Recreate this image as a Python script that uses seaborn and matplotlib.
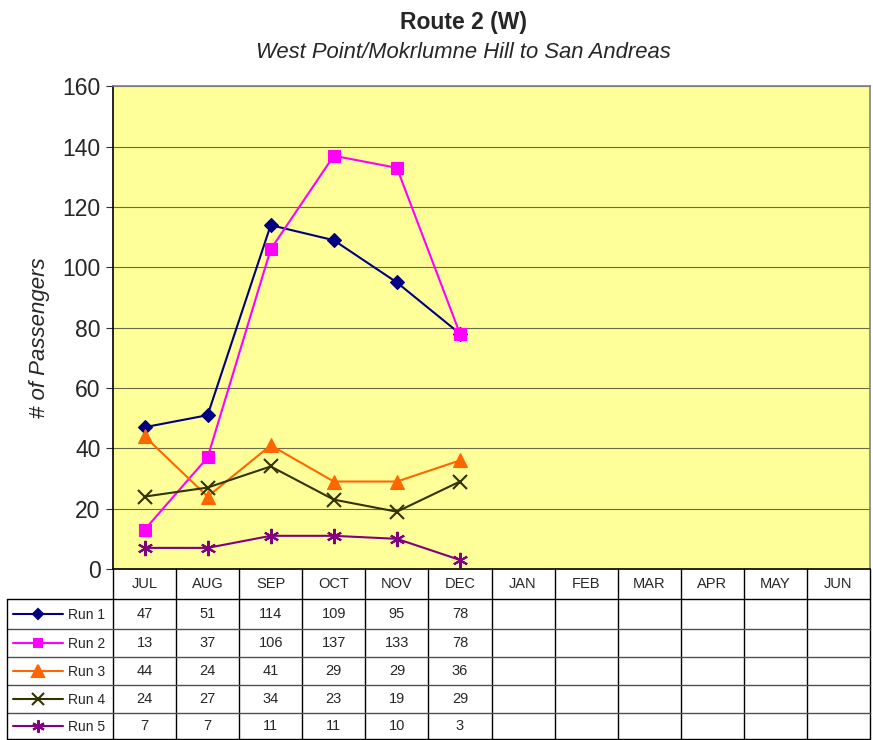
import matplotlib
matplotlib.use("Agg")
import matplotlib.pyplot as plt
import seaborn as sns
import pandas as pd

months = ["JUL", "AUG", "SEP", "OCT", "NOV", "DEC", "JAN", "FEB", "MAR", "APR", "MAY", "JUN"]
data_months = ["JUL", "AUG", "SEP", "OCT", "NOV", "DEC"]
run1 = [47, 51, 114, 109, 95, 78]
run2 = [13, 37, 106, 137, 133, 78]
run3 = [44, 24, 41, 29, 29, 36]
run4 = [24, 27, 34, 23, 19, 29]
run5 = [7, 7, 11, 11, 10, 3]
series_names = ["Run 1", "Run 2", "Run 3", "Run 4", "Run 5"]
series_vals = [run1, run2, run3, run4, run5]
yticks = [0, 20, 40, 60, 80, 100, 120, 140, 160]

colors = ["#000080", "#FF00FF", "#FF6600", "#333300", "#800080"]
markers = ["D", "s", "^", "x", (6, 2, 0)]
msizes = [7.5, 8, 10, 10, 11]

sns.set_style("white")
plt.rcParams["font.family"] = ["Liberation Sans", "DejaVu Sans"]

W, H = 873, 740
fig = plt.figure(figsize=(W / 100, H / 100), dpi=100)
L, R, T, B = 113, 870, 86.4, 569
ax = fig.add_axes([L / W, 1 - B / H, (R - L) / W, (B - T) / H])
ax.set_facecolor("#FFFF99")

rows = []
for name, vals in zip(series_names, series_vals):
    for m, v in zip(data_months, vals):
        rows.append({"month": m, "x": months.index(m), "run": name, "value": v})
df = pd.DataFrame(rows)

for i, name in enumerate(series_names):
    sub = df[df["run"] == name]
    mk = markers[i]
    filled = mk not in ("x",) and not isinstance(mk, tuple)
    sns.lineplot(data=sub, x="x", y="value", ax=ax, color=colors[i], lw=1.5,
                 marker=mk, markersize=msizes[i],
                 markeredgecolor=colors[i], markerfacecolor=colors[i],
                 markeredgewidth=1.5 if not filled else 0.8,
                 legend=False, zorder=3)

ax.set_xlim(-0.5, 11.5)
ax.set_ylim(0, 160)
ax.set_yticks(yticks)
ax.set_yticklabels([str(t) for t in yticks], fontsize=16.5)
ax.set_xticks([])
ax.set_xlabel("")
ax.set_ylabel("")
ax.grid(axis="y", color="#6b6b4a", lw=0.8)
ax.set_axisbelow(True)
ax.tick_params(axis="y", direction="out", length=5, width=0.8, color="#333333", pad=4, left=True)
for s in ["left", "bottom"]:
    ax.spines[s].set_color("black")
    ax.spines[s].set_linewidth(1.2)
for s in ["top", "right"]:
    ax.spines[s].set_color("#808080")
    ax.spines[s].set_linewidth(1.2)

fig.text(463 / W, 1 - 22 / H, "Route 2 (W)", ha="center", va="center", fontsize=16.5, fontweight="bold")
fig.text(463 / W, 1 - 52 / H, "West Point/Mokrlumne Hill to San Andreas", ha="center", va="center",
         fontsize=15.8, fontstyle="italic")
fig.text(40 / W, 1 - 338 / H, "# of Passengers", ha="center", va="center", rotation=90,
         fontsize=16, fontstyle="italic")

# data table
tax = fig.add_axes([0, 0, 1, 1])
tax.set_xlim(0, W)
tax.set_ylim(H, 0)
tax.axis("off")
colw = (R - L) / len(months)
row_y = [569, 599, 629, 657, 685, 713, 739]
lc = "black"
lw = 1.0
for i in range(len(months) + 1):
    x = L + i * colw
    tax.plot([x, x], [row_y[0], row_y[-1]], color=lc, lw=lw)
for j, y in enumerate(row_y[1:]):
    tax.plot([7, R], [y, y], color=lc if j == 0 or j == len(row_y) - 2 else "#505050", lw=lw)
tax.plot([7, 7], [row_y[1], row_y[-1]], color=lc, lw=lw)
for i, m in enumerate(months):
    tax.text(L + (i + 0.5) * colw, (row_y[0] + row_y[1]) / 2, m, ha="center", va="center", fontsize=10.5)
for r, (name, vals) in enumerate(zip(series_names, series_vals)):
    yc = (row_y[r + 1] + row_y[r + 2]) / 2
    tax.plot([13, 63], [yc, yc], color=colors[r], lw=1.5)
    mk = markers[r]
    tax.plot([38], [yc], marker=mk, color=colors[r], markersize=msizes[r] - 2,
             markeredgecolor=colors[r], markerfacecolor=colors[r], markeredgewidth=1.5)
    tax.text(68, yc + 1, name, ha="left", va="center", fontsize=10)
    for i, v in enumerate(vals):
        tax.text(L + (i + 0.5) * colw, yc, str(v), ha="center", va="center", fontsize=10.5)

fig.savefig("out.png", dpi=100)
